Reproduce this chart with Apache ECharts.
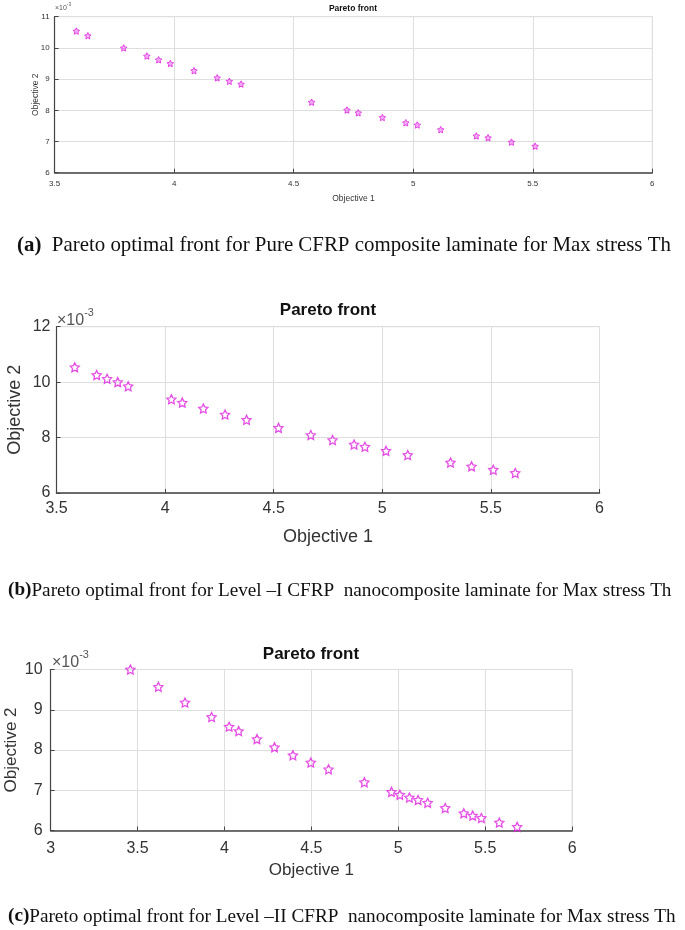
<!DOCTYPE html>
<html>
<head>
<meta charset="utf-8">
<script src="https://cdn.jsdelivr.net/npm/echarts@6/dist/echarts.min.js"></script>
<style>
  html, body { margin: 0; padding: 0; background: #fff; }
</style>
</head>
<body>
<div id="chart" style="width:685px;height:930px;"></div>
<script>
// values, objective 2 in units of 1e-3
var pureObj1 = [3.591, 3.639, 3.789, 3.886, 3.935, 3.984, 4.083, 4.180, 4.231, 4.280,
  4.575, 4.723, 4.770, 4.871, 4.969, 5.017, 5.115, 5.264, 5.313, 5.411, 5.510]
var pureObj2 = [10.54, 10.39, 10.00, 9.74, 9.62, 9.50, 9.27, 9.04, 8.93, 8.84,
  8.26, 8.01, 7.92, 7.77, 7.60, 7.53, 7.38, 7.18, 7.12, 6.98, 6.85]

var lvl1Obj1 = [3.584, 3.685, 3.733, 3.782, 3.830, 4.029, 4.079, 4.176, 4.276, 4.375,
  4.522, 4.671, 4.771, 4.870, 4.920, 5.017, 5.117, 5.314, 5.411, 5.511, 5.612]
var lvl1Obj2 = [10.54, 10.26, 10.12, 10.00, 9.85, 9.38, 9.26, 9.05, 8.83, 8.64,
  8.35, 8.09, 7.91, 7.75, 7.67, 7.52, 7.37, 7.10, 6.96, 6.84, 6.72]

var lvl2Obj1 = [3.459, 3.620, 3.773, 3.926, 4.027, 4.082, 4.187, 4.288, 4.394, 4.497,
  4.599, 4.805, 4.961, 5.009, 5.064, 5.114, 5.169, 5.270, 5.377, 5.428, 5.478, 5.581, 5.684]
var lvl2Obj2 = [10.00, 9.57, 9.18, 8.82, 8.58, 8.47, 8.27, 8.07, 7.87, 7.69,
  7.52, 7.20, 6.96, 6.89, 6.82, 6.76, 6.69, 6.56, 6.43, 6.37, 6.31, 6.20, 6.09]

var captions = [
  ['(a)', '  Pareto optimal front for Pure CFRP composite laminate for Max stress Th'],
  ['(b)', 'Pareto optimal front for Level \u2013I CFRP  nanocomposite laminate for Max stress Th'],
  ['(c)', 'Pareto optimal front for Level \u2013II CFRP  nanocomposite laminate for Max stress Th']
]

var star = 'path://M0,-10L2.94,-4.05L9.51,-3.09L4.76,1.55L5.88,8.09L0,5L-5.88,8.09L-4.76,1.55L-9.51,-3.09L-2.94,-4.05Z'
var pink = '#de22de'
var font = 'Liberation Sans'

function pairs(xs, ys) {
  return xs.map(function (x, i) { return [x, ys[i]] })
}

// one panel: grid box, axes, ranges
var panels = [
  { left: 54.6, top: 16.7, width: 597.7, height: 156, xMin: 3.5, yMin: 6, yMax: 11,
    fs: 8, nameFs: 8.5, xMargin: 7, yMargin: 5, xGap: 21, yGap: 14, sym: 6.5 },
  { left: 56.5, top: 326.7, width: 543, height: 166.3, xMin: 3.5, yMin: 6, yMax: 12, yStep: 2,
    fs: 16, nameFs: 18, xMargin: 8, yMargin: 6, xGap: 35, yGap: 32, sym: 9 },
  { left: 50.6, top: 669.5, width: 521.5, height: 161, xMin: 3, yMin: 6, yMax: 10,
    fs: 16, nameFs: 17, xMargin: 10, yMargin: 8, xGap: 31, yGap: 31, sym: 9 }
]

var grids = [], xAxes = [], yAxes = [], series = []
panels.forEach(function (p, i) {
  grids.push({ left: p.left, top: p.top, width: p.width, height: p.height,
    containLabel: false, outerBoundsMode: 'none',
    show: true, borderColor: '#d9d9d9', borderWidth: 1 })
  xAxes.push({
    gridIndex: i, type: 'value', min: p.xMin, max: 6, interval: 0.5,
    name: 'Objective 1', nameLocation: 'middle', nameGap: p.xGap, nameMoveOverlap: false,
    nameTextStyle: { fontFamily: font, fontSize: p.nameFs, color: '#333' },
    axisLine: { lineStyle: { color: '#444', width: 1.5 } },
    axisTick: { inside: true, length: 4, lineStyle: { color: '#444' } },
    axisLabel: { fontFamily: font, fontSize: p.fs, color: '#333', margin: p.xMargin, hideOverlap: false },
    splitLine: { show: true, lineStyle: { color: '#dedede' } }
  })
  yAxes.push({
    gridIndex: i, type: 'value', min: p.yMin, max: p.yMax, interval: p.yStep || 1,
    name: 'Objective 2', nameLocation: 'middle', nameGap: p.yGap, nameMoveOverlap: false,
    nameTextStyle: { fontFamily: font, fontSize: p.nameFs, color: '#333' },
    axisLine: { show: true, lineStyle: { color: '#444', width: 1.2 } },
    axisTick: { show: true, inside: true, length: 4, lineStyle: { color: '#444' } },
    axisLabel: { fontFamily: font, fontSize: p.fs, color: '#333', margin: p.yMargin, hideOverlap: false },
    splitLine: { show: true, lineStyle: { color: '#dedede' } }
  })
})

var dataSets = [pairs(pureObj1, pureObj2), pairs(lvl1Obj1, lvl1Obj2), pairs(lvl2Obj1, lvl2Obj2)]
dataSets.forEach(function (d, i) {
  series.push({
    type: 'scatter', xAxisIndex: i, yAxisIndex: i, data: d,
    symbol: star, symbolSize: panels[i].sym,
    itemStyle: { color: i === 0 ? 'rgba(222,34,222,0.45)' : 'rgba(0,0,0,0)', borderColor: pink, borderWidth: i === 0 ? 1 : 1.3 }
  })
})

var titles = [
  { left: 353, top: 4, fs: 8.5 },
  { left: 328, top: 302, fs: 17 },
  { left: 311, top: 646, fs: 17 }
].map(function (t) {
  return { text: 'Pareto front', left: t.left, top: t.top, textAlign: 'center', padding: 0,
    textStyle: { fontFamily: font, fontSize: t.fs, fontWeight: 'bold', color: '#111' } }
})

function expLabel(x, y, fs) {
  return { type: 'text', left: x, top: y,
    style: { text: '{a|\u00d710}{b|-3}', rich: {
      a: { fontFamily: font, fontSize: fs, fill: '#555', padding: [fs * 0.35, 0, 0, 0] },
      b: { fontFamily: font, fontSize: fs * 0.68, fill: '#555', verticalAlign: 'top' } } } }
}

function caption(i, x, y, fs) {
  return { type: 'text', left: x, top: y,
    style: { text: '{b|' + captions[i][0] + '}{n|' + captions[i][1] + '}', rich: {
      b: { fontFamily: 'Liberation Serif', fontSize: fs, fontWeight: 'bold', fill: '#111', lineHeight: 22 },
      n: { fontFamily: 'Liberation Serif', fontSize: fs, fill: '#111', lineHeight: 22 } } } }
}

var chart = echarts.init(document.getElementById('chart'))
chart.setOption({
  animation: false,
  title: titles,
  grid: grids,
  xAxis: xAxes,
  yAxis: yAxes,
  series: series,
  graphic: [
    expLabel(55, 2, 7),
    expLabel(57, 307, 16),
    expLabel(52, 649, 16),
    caption(0, 17, 235, 20.9),
    caption(1, 8, 581, 19.2),
    caption(2, 8, 907, 19.2)
  ]
})
</script>
</body>
</html>
